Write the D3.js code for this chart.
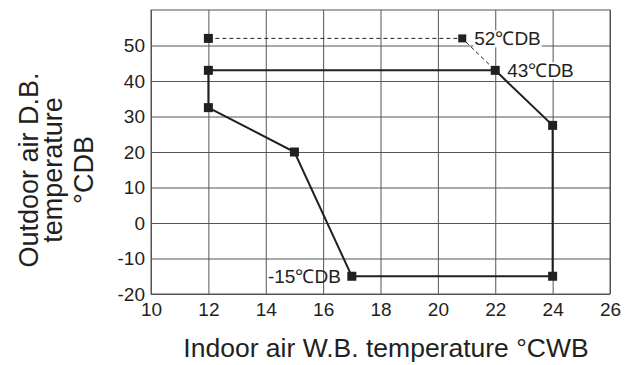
<!DOCTYPE html>
<html>
<head>
<meta charset="utf-8">
<script src="https://cdn.jsdelivr.net/npm/d3@7"></script>
<style>
  body { margin: 0; background: #fff; }
  text { font-family: "Liberation Sans", Arial, Helvetica, sans-serif; fill: #231f20; }
</style>
</head>
<body>
<div id="chart"></div>
<script>
var WIDTH = 625;
var HEIGHT = 365;
var LEFT = 151, RIGHT = 610, TOP = 10, BOTTOM = 294;

// operating range outline (indoor W.B. vs outdoor D.B.)
var rangeX = [12, 22, 24, 24, 17, 15, 12, 12];
var rangeY = [43, 43, 27.5, -15, -15, 20, 32.5, 43];

// extended range, dashed
var extX = [12, 20.85, 22];
var extY = [52, 52, 43];

var xTicks = [10, 12, 14, 16, 18, 20, 22, 24, 26];
var yTicks = [-20, -10, 0, 10, 20, 30, 40, 50];

var labelText = ["52\u2103DB", "43\u2103DB", "-15\u2103DB"];
var labelX = [20.85, 22, 17];
var labelY = [52, 43, -15];

var x = d3.scaleLinear().domain([10, 26]).range([LEFT, RIGHT]);
var y = d3.scaleLinear().domain([-20, 60]).range([BOTTOM, TOP]);

var svg = d3.select("#chart")
    .append("svg")
    .attr("width", WIDTH)
    .attr("height", HEIGHT);

// grid + tick labels (plain hyphen minus like the original)
var plain = function(d) { return String(d); };

var gx = svg.append("g")
    .attr("transform", "translate(0," + BOTTOM + ")")
    .call(d3.axisBottom(x).tickValues(xTicks).tickFormat(plain)
        .tickSize(-(BOTTOM - TOP)).tickPadding(9));

var gy = svg.append("g")
    .attr("transform", "translate(" + LEFT + ",0)")
    .call(d3.axisLeft(y).tickValues(yTicks).tickFormat(plain)
        .tickSize(-(RIGHT - LEFT)).tickPadding(6));

[gx, gy].forEach(function(g) {
    g.select(".domain").remove();
    g.selectAll("line").attr("stroke", "#555").attr("stroke-width", 1);
    g.selectAll("text")
        .style("font-size", "19px")
        .attr("fill", "#231f20");
});

// frame
svg.append("rect")
    .attr("x", LEFT)
    .attr("y", TOP)
    .attr("width", RIGHT - LEFT)
    .attr("height", BOTTOM - TOP)
    .attr("fill", "none")
    .attr("stroke", "#555")
    .attr("stroke-width", 1);

var line = d3.line()
    .x(function(d) { return x(d[0]); })
    .y(function(d) { return y(d[1]); });

var rangePts = d3.zip(rangeX, rangeY);
var extPts = d3.zip(extX, extY);

svg.append("path")
    .datum(extPts)
    .attr("d", line)
    .attr("fill", "none")
    .attr("stroke", "#231f20")
    .attr("stroke-width", 1)
    .attr("stroke-dasharray", "4,3");

svg.append("path")
    .datum(rangePts)
    .attr("d", line)
    .attr("fill", "none")
    .attr("stroke", "#231f20")
    .attr("stroke-width", 2);

// labels (first two sit on a white box over the grid)
var labels = svg.selectAll(".lbl")
    .data(labelText)
    .enter().append("g")
    .attr("class", "lbl");

labels.each(function(d, i) {
    var g = d3.select(this);
    var t = g.append("text")
        .attr("x", i < 2 ? x(labelX[i]) + 12 : x(labelX[i]) - 11)
        .attr("y", y(labelY[i]) + 7)
        .attr("text-anchor", i < 2 ? "start" : "end")
        .style("font-size", "19px")
        .text(d);
    if (i < 2) {
        var bb = t.node().getBBox();
        g.insert("rect", "text")
            .attr("x", bb.x - 1)
            .attr("y", bb.y + 2)
            .attr("width", bb.width + 2)
            .attr("height", bb.height - 4)
            .attr("fill", "#fff");
    }
});

// markers
var markers = rangePts.slice(0, 7).concat(extPts.slice(0, 2));
svg.selectAll(".mk")
    .data(markers)
    .enter().append("rect")
    .attr("class", "mk")
    .attr("x", function(d, i) { return x(d[0]) - (i == 8 ? 4 : 4.5); })
    .attr("y", function(d, i) { return y(d[1]) - (i == 8 ? 4 : 4.5); })
    .attr("width", function(d, i) { return i == 8 ? 8 : 9; })
    .attr("height", function(d, i) { return i == 8 ? 8 : 9; })
    .attr("fill", "#231f20");

// axis titles
svg.append("text")
    .attr("x", 386)
    .attr("y", 357)
    .attr("text-anchor", "middle")
    .style("font-size", "26.5px")
    .text("Indoor air W.B. temperature \u00b0CWB");

var yTitle = ["Outdoor air D.B.", "temperature", "\u00b0CDB"];
var yTitleBase = [38, 62, 93];
svg.selectAll(".ytitle")
    .data(yTitle)
    .enter().append("text")
    .attr("class", "ytitle")
    .attr("text-anchor", "middle")
    .attr("transform", function(d, i) {
        return "translate(" + yTitleBase[i] + ",170) rotate(-90)";
    })
    .style("font-size", "27px")
    .text(function(d) { return d; });
</script>
</body>
</html>
